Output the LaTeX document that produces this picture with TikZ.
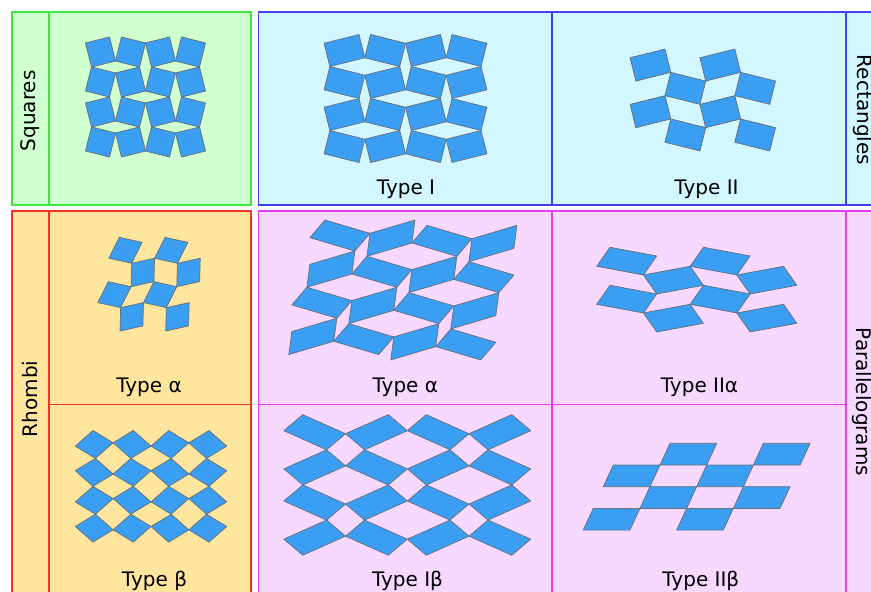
\documentclass[tikz,border=0pt]{standalone}
\usepackage{fontspec}
\setmainfont{DejaVu Sans}
\definecolor{tileblue}{RGB}{58,158,242}
\definecolor{tileedge}{RGB}{105,110,120}
\definecolor{sqfill}{RGB}{208,255,208}
\definecolor{sqline}{RGB}{64,232,64}
\definecolor{recfill}{RGB}{210,247,255}
\definecolor{recline}{RGB}{64,64,240}
\definecolor{rhofill}{RGB}{255,230,158}
\definecolor{rholine}{RGB}{242,52,40}
\definecolor{parfill}{RGB}{247,216,255}
\definecolor{parline}{RGB}{228,64,240}
% parallelogram from a corner: x, y, length 1, angle 1, length 2, angle 2
\newcommand\plgram[6]{%
  \filldraw[tile] (#1,#2) -- ++(#4:#3) -- ++(#6:#5) -- ++({#4+180}:#3) -- cycle;}
% parallelogram by its half diagonals: cx, cy, p, angle of p, q, angle of q
\newcommand\pdiam[6]{%
  \filldraw[tile,shift={(#1,#2)}] (#4:#3) -- (#6:#5) -- ({#4+180}:#3) -- ({#6+180}:#5) -- cycle;}
% rotated rectangle about its centre: cx, cy, half width, half height, rotation
\newcommand\rtile[5]{%
  \filldraw[tile,shift={(#1,#2)},rotate=#5] (-#3,-#4) -- (#3,-#4) -- (#3,#4) -- (-#3,#4) -- cycle;}
\begin{document}
\begin{tikzpicture}[x=1pt,y=-1pt,
  tile/.style={fill=tileblue,draw=tileedge,line width=0.7pt,line join=round},
  frame/.style={line width=1.6pt},
  caption/.style={font=\fontsize{20}{24}\selectfont,anchor=base,inner sep=0pt},
  sidelabel/.style={font=\fontsize{20}{24}\selectfont,inner sep=0pt}]
\useasboundingbox (0,0) rectangle (871,592);
\clip (0,0) rectangle (871,592);

% ---- panels ----
\filldraw[frame,fill=sqfill,draw=sqline] (12,12) rectangle (251,205);
\draw[frame,draw=sqline] (49,12) -- (49,205);

\filldraw[frame,fill=recfill,draw=recline] (258.5,12) rectangle (900,205);
\draw[frame,draw=recline] (552,12) -- (552,205);
\draw[frame,draw=recline] (846,12) -- (846,205);

\filldraw[frame,fill=rhofill,draw=rholine] (12,211) rectangle (251,620);
\draw[frame,draw=rholine] (49,211) -- (49,620);
\draw[frame,draw=rholine] (49,404.5) -- (251,404.5);

\filldraw[frame,fill=parfill,draw=parline] (258.5,211) rectangle (900,620);
\draw[frame,draw=parline] (552,211) -- (552,620);
\draw[frame,draw=parline] (846,211) -- (846,620);
\draw[frame,draw=parline] (258.5,404.5) -- (846,404.5);

% ---- rotating squares ----
\foreach \i in {0,...,3}{\foreach \j in {0,...,3}{
  \pgfmathsetmacro\cx{145.5+(\i-1.5)*30}
  \pgfmathsetmacro\cy{97+(\j-1.5)*30}
  \pgfmathsetmacro\rt{mod(\i+\j,2)==0 ? 14 : -14}
  \rtile{\cx}{\cy}{12.4}{12.4}{\rt}
}}

% ---- rectangles, type I ----
\foreach \i in {0,...,3}{\foreach \j in {0,...,3}{
  \pgfmathsetmacro\cx{405.5+(\i-1.5)*40.7}
  \pgfmathsetmacro\cy{98.5+(\j-1.5)*32.0}
  \pgfmathsetmacro\rt{mod(\i+\j,2)==0 ? 14 : -14}
  \rtile{\cx}{\cy}{18}{12}{\rt}
}}

% ---- rectangles, type II ----
\foreach \c/\r in {0/0,2/0,1/1,3/1,0/2,2/2,1/3,3/3}{
  \pgfmathsetmacro\cx{702.8+(\c-1.5)*34.9}
  \pgfmathsetmacro\cy{100+(\r-1.5)*23.3}
  \pgfmathsetmacro\rt{mod(\r,2)==0 ? 14 : -14}
  \rtile{\cx}{\cy}{18}{12}{\rt}
}

% ---- rhombi, type alpha ----
\foreach \m/\n in {0/0,1/0,0/1,1/1}{
  \pgfmathsetmacro\ox{119.3+\m*45.69-\n*11.05}
  \pgfmathsetmacro\oy{237.3+\n*44.33}
  \pgfmathsetmacro\px{\ox+12.40}
  \pgfmathsetmacro\py{\oy+26.0}
  \plgram{\ox}{\oy}{23.4}{12.5}{23.4}{116.5}
  \plgram{\px}{\py}{23.4}{-12.5}{23.4}{91.5}
}

% ---- rhombi, type beta ----
\foreach \i in {0,...,3}{\foreach \j in {0,...,3}{
  \pgfmathsetmacro\cx{151+(\i-1.5)*37.86}
  \pgfmathsetmacro\cy{486.3+(\j-1.5)*27.9}
  \pgfmathsetmacro\th{mod(\i+\j,2)==0 ? -5 : 5}
  \pgfmathsetmacro\ga{\th+90}
  \pdiam{\cx}{\cy}{19}{\th}{14}{\ga}
}}

% ---- parallelograms, type alpha ----
\foreach \a/\b in {0/0,1/0,0/1,1/1}{
  \pgfmathsetmacro\bx{325+\a*101.98-\b*18.1}
  \pgfmathsetmacro\by{220+\a*5.36+\b*67.28}
  \pgfmathsetmacro\qx{\bx+44.97}\pgfmathsetmacro\qy{\by+13.32}
  \pgfmathsetmacro\rx{\bx-15.07}\pgfmathsetmacro\ry{\by+44.28}
  \pgfmathsetmacro\sx{\bx+41.94}\pgfmathsetmacro\sy{\by+36.32}
  \plgram{\bx}{\by}{46.9}{16.5}{23.2}{130.5}
  \plgram{\qx}{\qy}{46.9}{-16.5}{23.2}{97.5}
  \plgram{\rx}{\ry}{46.9}{-16.5}{23.2}{97.5}
  \plgram{\sx}{\sy}{46.9}{16.5}{23.2}{130.5}
}

% ---- parallelograms, type II alpha ----
\foreach \m/\n in {0/0,1/0,0/1,1/1}{
  \pgfmathsetmacro\ox{610+\m*93.42}
  \pgfmathsetmacro\oy{247.3+\n*38.0}
  \pgfmathsetmacro\px{\ox+33.4}
  \pgfmathsetmacro\py{\oy+27.66}
  \plgram{\ox}{\oy}{47.5}{10.5}{23.2}{125}
  \plgram{\px}{\py}{47.5}{-10.5}{23.2}{55}
}

% ---- parallelograms, type I beta ----
\foreach \i in {0,...,3}{\foreach \j in {0,...,3}{
  \pgfmathsetmacro\cx{314.7+\i*61.73}
  \pgfmathsetmacro\cy{432.2+\j*35.15}
  \pgfmathsetmacro\th{mod(\i+\j,2)==0 ? 2.8 : -2.8}
  \pgfmathsetmacro\ga{mod(\i+\j,2)==0 ? 56 : 124}
  \pdiam{\cx}{\cy}{30.9}{\th}{21.2}{\ga}
}}

% ---- parallelograms, type II beta ----
\foreach \i/\j in {0/0,2/0,-1/1,1/1,0/2,2/2,-1/3,1/3}{
  \pgfmathsetmacro\ox{670+\i*46.7-\j*10.02}
  \pgfmathsetmacro\oy{443.3+\j*21.70}
  \plgram{\ox}{\oy}{46.7}{0}{23.9}{114.8}
}

% ---- captions ----
\node[caption] (capI) at (406,194) {Type I};
\node[caption] (capII) at (706.5,194) {Type II};
\node[caption] (capRa) at (149,392.3) {Type α};
\node[caption] (capPa) at (405.3,392.3) {Type α};
\node[caption] (capPIIa) at (699.5,392.3) {Type IIα};
\node[caption] (capRb) at (154.5,586.7) {Type β};
\node[caption] (capPIb) at (407.5,586.7) {Type Iβ};
\node[caption] (capPIIb) at (700.8,586.7) {Type IIβ};

\node[sidelabel,rotate=90] (lsq) at (30.5,110.8) {Squares};
\node[sidelabel,rotate=-90] (lrec) at (863,110) {Rectangles};
\node[sidelabel,rotate=90] (lrho) at (30.5,399) {Rhombi};
\node[sidelabel,rotate=-90] (lpar) at (862,402) {Parallelograms};
\end{tikzpicture}
\end{document}
